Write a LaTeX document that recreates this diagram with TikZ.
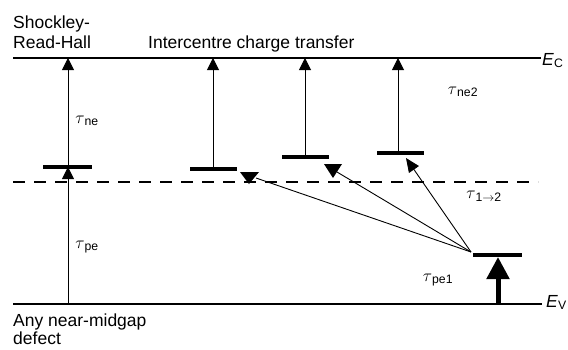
\documentclass[tikz,border=0pt]{standalone}
\usepackage{fontspec}
\setmainfont{Liberation Sans}
\usetikzlibrary{arrows.meta}
\newcommand\tsub[1]{$\tau$\textsubscript{#1}}
\begin{document}
\begin{tikzpicture}[x=1pt,y=-1pt,
  band/.style={line width=2pt},
  midline/.style={line width=2pt,dash pattern=on 12pt off 9pt},
  level/.style={line width=3.5pt},
  uparrow/.style={line width=1pt,-{Triangle[length=12pt,width=12pt]}},
  bigarrow/.style={line width=5pt,-{Triangle[length=22pt,width=22pt]}},
  diag/.style={line width=0.9pt},
  lbl/.style={font=\fontsize{17.5}{20}\selectfont,inner sep=0pt},
  tau/.style={font=\fontsize{17.5}{20}\selectfont,inner sep=0pt}]
\useasboundingbox (0,0) rectangle (568,349);
% band edges
\coordinate (ecL) at (13,58);  \coordinate (ecR) at (541,58);
\coordinate (evL) at (13,304); \coordinate (evR) at (542,304);
\coordinate (dmL) at (13,182); \coordinate (dmR) at (538,182);
\draw[band] (ecL) -- (ecR);
\draw[band] (evL) -- (evR);
\draw[midline] (dmL) -- (dmR);
\node[lbl,anchor=base west] (EC) at (542,65) {\textit{E}\textsubscript{C}};
\node[lbl,anchor=base west] (EV) at (546,307) {\textit{E}\textsubscript{V}};
% SRH
\coordinate (s0) at (68,304); \coordinate (s1) at (68,167); \coordinate (s2) at (68,58);
\coordinate (sL) at (43,167); \coordinate (sR) at (92,167);
\draw[level] (sL) -- (sR);
\draw[uparrow] (s0) -- (s1);
\draw[uparrow] (s1) -- (s2);
% intercentre levels
\coordinate (l1L) at (190,169); \coordinate (l1R) at (237,169);
\coordinate (l1) at (213,169); \coordinate (c1) at (213,58);
\coordinate (l2L) at (282,157); \coordinate (l2R) at (329,157);
\coordinate (l2) at (305,157); \coordinate (c2) at (305,58);
\coordinate (l3L) at (377,153); \coordinate (l3R) at (424,153);
\coordinate (l3) at (398,153); \coordinate (c3) at (398,58);
\draw[level] (l1L) -- (l1R);
\draw[level] (l2L) -- (l2R);
\draw[level] (l3L) -- (l3R);
\draw[uparrow] (l1) -- (c1);
\draw[uparrow] (l2) -- (c2);
\draw[uparrow] (l3) -- (c3);
% bottom level
\coordinate (bL) at (473,255); \coordinate (bR) at (522,255);
\coordinate (b0) at (498,304); \coordinate (b1) at (498,257);
\draw[level] (bL) -- (bR);
\draw[bigarrow] (b0) -- (b1);
% transfer arrows
\coordinate (src) at (471,252);
\coordinate (t1) at (256,178);
\coordinate (t2) at (337,172);
\coordinate (t3) at (406,158);
\draw[diag] (src) -- (t1);
\draw[diag] (src) -- (t2);
\draw[diag,-{Triangle[length=14pt,width=12pt]}] (src) -- (t3);
\fill (240,172) -- (259,172) -- (249,184) -- cycle;
\fill (324,164) -- (342,164) -- (333,178) -- cycle;
% labels
\node[lbl,anchor=base west] (srh1) at (13,28) {Shockley-};
\node[lbl,anchor=base west] (srh2) at (13,48) {Read-Hall};
\node[lbl,anchor=base west] (ict) at (148,48) {Intercentre charge transfer};
\node[lbl,anchor=base west] (any1) at (13,326) {Any near-midgap};
\node[lbl,anchor=base west] (any2) at (13,344) {defect};
\node[tau] (tne) at (87,121) {\tsub{ne}};
\node[tau] (tpe) at (87,247) {\tsub{pe}};
\node[tau] (tne2) at (463,92) {\tsub{ne2}};
\node[tau] (t12) at (484,196) {\tsub{1$\rightarrow$2}};
\node[tau] (tpe1) at (438,280) {\tsub{pe1}};
\end{tikzpicture}
\end{document}
